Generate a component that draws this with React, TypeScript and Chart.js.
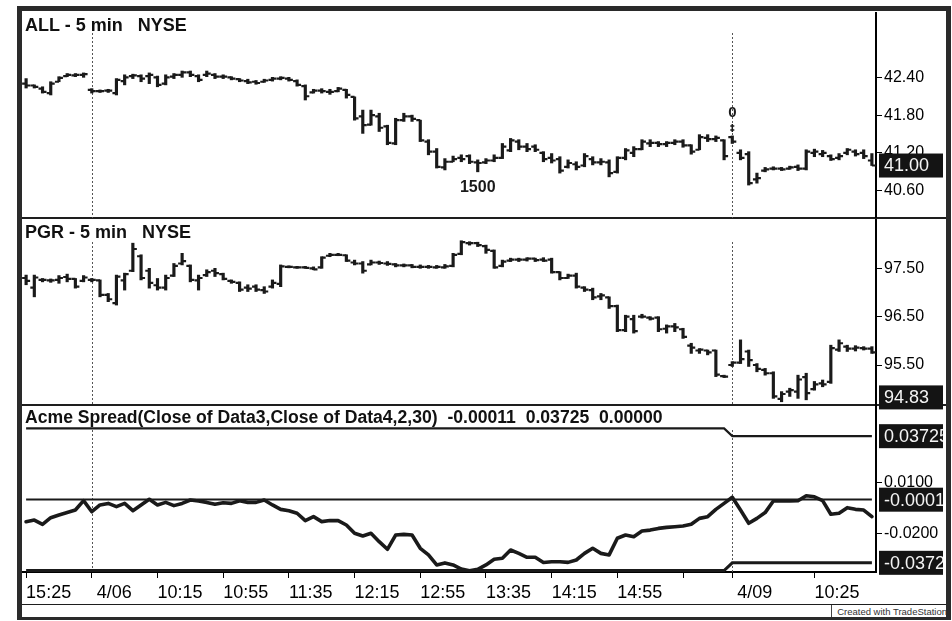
import React, { useEffect, useRef } from "react";
import { Chart, registerables } from "chart.js";

Chart.register(...registerables);

const FONT = '"Liberation Sans", Arial, Helvetica, sans-serif';
const INK = "#1a1a1a";

// ---- categories: 5-minute bars over three sessions ----
const sessions = [
  { day: "4/05", first: "15:25", last: "16:00" },
  { day: "4/06", first: "9:35", last: "16:00" },
  { day: "4/09", first: "9:35", last: "11:00" },
];
function buildCategories() {
  const out: string[] = [];
  for (const s of sessions) {
    let [h, m] = s.first.split(":").map(Number);
    const [eh, em] = s.last.split(":").map(Number);
    while (h * 60 + m <= eh * 60 + em) {
      out.push(`${s.day} ${h}:${String(m).padStart(2, "0")}`);
      m += 5;
      if (m >= 60) { m -= 60; h += 1; }
    }
  }
  return out;
}
const categories = buildCategories();

// x-axis tick anchors (bar index) and their labels
const xTickIndex = [0, 8, 16, 24, 32, 40, 48, 56, 64, 72, 80, 86, 96];
const xTickLabels = ["15:25", " 4/06", "10:15", "10:55", "11:35", "12:15", "12:55", "13:35", "14:15", "14:55", "", " 4/09", "10:25"];
const dayStartIndex = [8, 86];

// ---- ALL - 5 min ----
const allOpen = [
  42.30, 42.27, 42.22, 42.15, 42.33, 42.42, 42.43, 42.44, 42.20, 42.18,
  42.19, 42.15, 42.34, 42.42, 42.42, 42.42, 42.40, 42.30, 42.41, 42.44,
  42.48, 42.42, 42.44, 42.44, 42.41, 42.40, 42.37, 42.34, 42.33, 42.33,
  42.36, 42.38, 42.38, 42.34, 42.26, 42.16, 42.19, 42.17, 42.18, 42.20,
  42.09, 41.78, 41.65, 41.78, 41.62, 41.35, 41.72, 41.78, 41.72, 41.38,
  41.22, 40.97, 41.06, 41.12, 41.15, 41.05, 41.05, 41.08, 41.12, 41.24,
  41.38, 41.30, 41.30, 41.20, 41.12, 41.10, 40.98, 41.02, 41.00, 41.10,
  41.05, 41.05, 40.90, 41.12, 41.20, 41.26, 41.35, 41.36, 41.34, 41.36,
  41.38, 41.32, 41.25, 41.44, 41.42, 41.40, 41.45, 41.20, 41.18, 40.78,
  40.92, 40.95, 40.95, 40.95, 40.98, 40.95, 41.20, 41.18, 41.15, 41.12,
  41.20, 41.22, 41.20, 41.08,
];
const allHigh = [
  42.38, 42.28, 42.25, 42.33, 42.41, 42.46, 42.46, 42.47, 42.22, 42.20,
  42.21, 42.38, 42.44, 42.45, 42.44, 42.47, 42.42, 42.44, 42.46, 42.50,
  42.50, 42.44, 42.50, 42.46, 42.44, 42.41, 42.38, 42.37, 42.35, 42.37,
  42.40, 42.41, 42.40, 42.36, 42.28, 42.21, 42.22, 42.21, 42.24, 42.21,
  42.09, 41.88, 41.88, 41.83, 41.64, 41.75, 41.83, 41.80, 41.72, 41.41,
  41.27, 41.11, 41.15, 41.17, 41.17, 41.09, 41.11, 41.17, 41.35, 41.43,
  41.41, 41.35, 41.33, 41.22, 41.19, 41.14, 41.09, 41.06, 41.19, 41.14,
  41.11, 41.09, 41.14, 41.27, 41.30, 41.41, 41.41, 41.38, 41.38, 41.41,
  41.41, 41.33, 41.49, 41.49, 41.47, 41.41, 41.47, 41.25, 41.22, 40.88,
  40.97, 40.98, 40.97, 40.99, 41.01, 41.25, 41.26, 41.24, 41.17, 41.19,
  41.27, 41.25, 41.25, 41.19,
];
const allLow = [
  42.23, 42.23, 42.15, 42.12, 42.33, 42.41, 42.41, 42.40, 42.15, 42.16,
  42.16, 42.12, 42.28, 42.38, 42.33, 42.30, 42.25, 42.28, 42.38, 42.40,
  42.41, 42.33, 42.41, 42.38, 42.38, 42.36, 42.33, 42.30, 42.29, 42.32,
  42.34, 42.36, 42.34, 42.26, 42.04, 42.15, 42.15, 42.13, 42.17, 42.07,
  41.72, 41.51, 41.64, 41.54, 41.33, 41.33, 41.70, 41.70, 41.38, 41.17,
  40.96, 40.93, 41.06, 41.06, 41.03, 40.90, 41.03, 41.06, 41.11, 41.22,
  41.25, 41.22, 41.22, 41.06, 41.04, 40.88, 40.96, 40.93, 40.98, 41.01,
  41.01, 40.82, 40.88, 41.09, 41.14, 41.25, 41.30, 41.30, 41.30, 41.33,
  41.29, 41.18, 41.25, 41.38, 41.38, 41.09, 41.35, 41.09, 40.69, 40.72,
  40.90, 40.93, 40.92, 40.94, 40.92, 40.93, 41.14, 41.14, 41.08, 41.09,
  41.17, 41.15, 41.11, 41.00,
];
const allClose = [
  42.27, 42.25, 42.17, 42.30, 42.39, 42.44, 42.44, 42.45, 42.18, 42.18,
  42.19, 42.36, 42.40, 42.43, 42.38, 42.44, 42.28, 42.40, 42.44, 42.48,
  42.44, 42.36, 42.46, 42.41, 42.41, 42.38, 42.35, 42.32, 42.31, 42.35,
  42.38, 42.39, 42.36, 42.28, 42.10, 42.19, 42.18, 42.17, 42.22, 42.12,
  41.75, 41.64, 41.80, 41.60, 41.36, 41.72, 41.78, 41.74, 41.40, 41.22,
  40.98, 41.06, 41.10, 41.10, 41.06, 41.04, 41.08, 41.12, 41.30, 41.40,
  41.30, 41.26, 41.25, 41.10, 41.08, 40.92, 41.04, 40.98, 41.15, 41.05,
  41.06, 40.88, 41.12, 41.24, 41.26, 41.38, 41.36, 41.34, 41.36, 41.38,
  41.32, 41.22, 41.45, 41.42, 41.44, 41.15, 41.38, 41.12, 40.72, 40.80,
  40.94, 40.95, 40.94, 40.97, 40.95, 41.22, 41.22, 41.20, 41.10, 41.15,
  41.25, 41.18, 41.15, 41.00,
];
const allTicks = [40.6, 41.2, 41.8, 42.4];
const allRange = [40.167, 43.437];
const allLast = [{ value: 41.0, text: "41.00" }];
const allNoteIndex = [55, 86];
const allNoteText = ["1500", "0"];
const allNotePlace = ["below", "above"];

// ---- PGR - 5 min ----
const pgrOpen = [
  97.30, 97.10, 97.26, 97.25, 97.26, 97.32, 97.28, 97.24, 97.26, 97.25,
  96.95, 96.78, 97.25, 97.45, 97.75, 97.45, 97.15, 97.10, 97.35, 97.60,
  97.55, 97.25, 97.36, 97.45, 97.38, 97.24, 97.20, 97.10, 97.12, 97.05,
  97.12, 97.18, 97.53, 97.52, 97.52, 97.50, 97.52, 97.76, 97.78, 97.77,
  97.62, 97.60, 97.58, 97.62, 97.60, 97.58, 97.56, 97.56, 97.53, 97.53,
  97.52, 97.52, 97.55, 97.80, 98.02, 98.02, 97.96, 97.86, 97.55, 97.66,
  97.68, 97.68, 97.70, 97.68, 97.68, 97.42, 97.30, 97.35, 97.10, 97.05,
  96.92, 96.90, 96.72, 96.22, 96.45, 96.50, 96.48, 96.48, 96.25, 96.30,
  96.24, 95.90, 95.80, 95.80, 95.80, 95.27, 95.50, 95.55, 95.78, 95.50,
  95.40, 95.33, 94.80, 94.95, 94.95, 95.25, 95.00, 95.12, 95.15, 95.82,
  95.88, 95.84, 95.85, 95.84,
];
const pgrHigh = [
  97.36, 97.36, 97.29, 97.28, 97.35, 97.38, 97.29, 97.35, 97.29, 97.26,
  96.98, 97.36, 97.40, 98.02, 97.78, 97.50, 97.29, 97.36, 97.60, 97.81,
  97.57, 97.36, 97.47, 97.50, 97.40, 97.26, 97.22, 97.16, 97.16, 97.12,
  97.26, 97.57, 97.55, 97.53, 97.53, 97.53, 97.74, 97.81, 97.81, 97.78,
  97.67, 97.64, 97.67, 97.65, 97.64, 97.60, 97.59, 97.58, 97.57, 97.56,
  97.56, 97.58, 97.81, 98.07, 98.05, 98.04, 97.98, 97.88, 97.67, 97.71,
  97.71, 97.72, 97.71, 97.72, 97.71, 97.43, 97.38, 97.40, 97.12, 97.09,
  96.98, 96.91, 96.74, 96.53, 96.53, 96.55, 96.50, 96.50, 96.33, 96.36,
  96.26, 95.95, 95.84, 95.81, 95.81, 95.29, 95.57, 96.02, 95.81, 95.53,
  95.43, 95.36, 94.95, 95.02, 95.29, 95.33, 95.16, 95.19, 95.91, 96.02,
  95.91, 95.90, 95.88, 95.88,
];
const pgrLow = [
  97.16, 96.91, 97.22, 97.21, 97.19, 97.22, 97.09, 97.22, 97.22, 96.91,
  96.81, 96.74, 97.05, 97.43, 97.26, 97.09, 97.05, 97.05, 97.33, 97.57,
  97.22, 97.05, 97.33, 97.33, 97.26, 97.19, 97.02, 97.02, 97.02, 96.98,
  97.09, 97.12, 97.51, 97.50, 97.50, 97.47, 97.50, 97.74, 97.76, 97.64,
  97.57, 97.40, 97.57, 97.58, 97.56, 97.53, 97.53, 97.51, 97.50, 97.50,
  97.50, 97.50, 97.53, 97.78, 97.98, 97.95, 97.81, 97.50, 97.53, 97.64,
  97.64, 97.65, 97.64, 97.64, 97.40, 97.26, 97.29, 97.09, 97.02, 96.85,
  96.85, 96.67, 96.19, 96.19, 96.16, 96.47, 96.43, 96.19, 96.16, 96.19,
  96.05, 95.74, 95.74, 95.71, 95.26, 95.24, 95.47, 95.53, 95.47, 95.36,
  95.29, 94.81, 94.74, 94.85, 94.81, 94.78, 94.98, 95.05, 95.12, 95.78,
  95.78, 95.79, 95.81, 95.74,
];
const pgrClose = [
  97.24, 97.31, 97.26, 97.25, 97.30, 97.28, 97.12, 97.31, 97.26, 96.95,
  96.86, 97.33, 97.38, 97.90, 97.30, 97.20, 97.10, 97.30, 97.55, 97.65,
  97.26, 97.30, 97.42, 97.40, 97.28, 97.22, 97.06, 97.08, 97.06, 97.02,
  97.20, 97.54, 97.53, 97.52, 97.51, 97.48, 97.72, 97.78, 97.78, 97.66,
  97.60, 97.45, 97.62, 97.61, 97.59, 97.56, 97.56, 97.53, 97.53, 97.53,
  97.53, 97.54, 97.78, 98.04, 98.02, 97.98, 97.88, 97.52, 97.64, 97.68,
  97.68, 97.70, 97.67, 97.66, 97.42, 97.30, 97.35, 97.12, 97.06, 96.90,
  96.94, 96.72, 96.22, 96.50, 96.20, 96.50, 96.46, 96.24, 96.30, 96.28,
  96.08, 95.86, 95.82, 95.76, 95.30, 95.26, 95.55, 95.62, 95.60, 95.42,
  95.33, 94.85, 94.90, 94.98, 95.20, 94.92, 95.10, 95.10, 95.85, 95.95,
  95.84, 95.86, 95.84, 95.76,
];
const pgrTicks = [95.5, 96.5, 97.5];
const pgrRange = [94.673, 98.52];
const pgrLast = [{ value: 94.83, text: "94.83" }];

// ---- Acme Spread ----
const spread = [
  -0.0131, -0.0121, -0.0146, -0.0107, -0.0091, -0.0077, -0.0062, -0.0007, -0.0072, -0.0032,
  -0.0023, -0.0042, -0.0023, -0.0066, -0.0032, 0.0001, -0.0032, -0.0017, -0.0036, -0.0023,
  -0.0003, -0.0009, -0.0017, -0.0028, -0.0019, -0.0023, -0.0007, -0.0017, -0.0017, -0.0003,
  -0.0032, -0.0058, -0.0066, -0.0081, -0.0124, -0.0101, -0.0130, -0.0124, -0.0124, -0.0150,
  -0.0199, -0.0215, -0.0199, -0.0248, -0.0293, -0.0209, -0.0205, -0.0209, -0.0287, -0.0326,
  -0.0385, -0.0373, -0.0385, -0.0409, -0.0419, -0.0411, -0.0385, -0.0352, -0.0346, -0.0297,
  -0.0317, -0.0340, -0.0340, -0.0371, -0.0366, -0.0366, -0.0370, -0.0356, -0.0317, -0.0287,
  -0.0317, -0.0326, -0.0228, -0.0209, -0.0219, -0.0185, -0.0180, -0.0170, -0.0164, -0.0160,
  -0.0156, -0.0146, -0.0111, -0.0101, -0.0058, -0.0023, 0.0013, -0.0062, -0.0140, -0.0111,
  -0.0077, -0.0009, -0.0009, -0.0009, -0.0007, 0.0022, 0.0016, -0.0007, -0.0087, -0.0081,
  -0.0048, -0.0058, -0.0062, -0.0101,
];
// band levels per segment of bars [fromIndex, toIndex, value]
const upperBandSegments = [[0, 85, 0.0418], [86, 103, 0.03725]];
const lowerBandSegments = [[0, 85, -0.0418], [86, 103, -0.03725]];
const zeroLineSegments = [[0, 103, 0.0]];
const spreadTicks = [-0.02, 0.01];
const spreadRange = [-0.04265, 0.055];
const spreadLast = [
  { value: 0.03725, text: "0.03725" },
  { value: -0.00011, text: "-0.00011" },
  { value: -0.03725, text: "-0.03725" },
];

function expandSegments(segs: number[][]) {
  const out: number[] = [];
  for (const [a, b, v] of segs) for (let i = a; i <= b; i++) out[i] = v;
  return out;
}

const Y_AXIS_WIDTH = 70;

const daySeparatorPlugin = {
  id: "daySeparators",
  beforeDatasetsDraw(chart: any, _a: any, opts: any) {
    const { ctx, chartArea, scales } = chart;
    const x = scales.x;
    ctx.save();
    ctx.strokeStyle = "#555";
    ctx.lineWidth = 1;
    ctx.setLineDash([2, 2]);
    for (const idx of dayStartIndex) {
      const px = Math.round(x.getPixelForValue(idx)) + 0.5;
      ctx.beginPath();
      ctx.moveTo(px, chartArea.top + (opts.topGap ?? 22));
      ctx.lineTo(px, chartArea.bottom);
      ctx.stroke();
    }
    ctx.restore();
  },
};

const valueBoxPlugin = {
  id: "valueBoxes",
  afterDraw(chart: any, _a: any, opts: any) {
    const { ctx, chartArea, scales } = chart;
    const y = scales.y;
    for (const b of opts.boxes || []) {
      const py = y.getPixelForValue(b.value);
      const left = chartArea.right + 3;
      const right = chart.width - 3;
      const h = 24;
      ctx.save();
      ctx.fillStyle = "#141414";
      ctx.fillRect(left, py - h / 2, right - left, h);
      ctx.beginPath();
      ctx.rect(left, py - h / 2, right - left, h);
      ctx.clip();
      ctx.fillStyle = "#f4f4f4";
      ctx.font = `18px ${FONT}`;
      ctx.textAlign = "left";
      ctx.textBaseline = "middle";
      ctx.fillText(b.text, left + 5, py + 1);
      ctx.restore();
    }
  },
};

const notePlugin = {
  id: "barNotes",
  afterDatasetsDraw(chart: any, _a: any, opts: any) {
    if (!opts.index) return;
    const { ctx, scales } = chart;
    ctx.save();
    ctx.fillStyle = INK;
    ctx.strokeStyle = INK;
    ctx.textAlign = "center";
    ctx.textBaseline = "middle";
    opts.index.forEach((idx: number, k: number) => {
      const px = scales.x.getPixelForValue(idx);
      if (opts.place[k] === "below") {
        const py = scales.y.getPixelForValue(opts.low[idx]);
        ctx.font = `bold 16px ${FONT}`;
        ctx.fillText(opts.text[k], px, py + 16);
      } else {
        const py = scales.y.getPixelForValue(opts.high[idx]);
        ctx.font = `bold 15px ${FONT}`;
        ctx.fillText(opts.text[k], px, py - 23);
        ctx.lineWidth = 1.5;
        ctx.beginPath();
        ctx.moveTo(px, py - 12);
        ctx.lineTo(px, py - 4);
        ctx.moveTo(px - 2, py - 10);
        ctx.lineTo(px + 2, py - 10);
        ctx.moveTo(px - 2, py - 6);
        ctx.lineTo(px + 2, py - 6);
        ctx.stroke();
      }
    });
    ctx.restore();
  },
};

function rightAxis(range: number[], tickValues: number[], decimals: number) {
  return {
    type: "linear",
    position: "right",
    min: range[0],
    max: range[1],
    afterBuildTicks: (s: any) => {
      s.ticks = tickValues.map((v) => ({ value: v }));
    },
    afterFit: (s: any) => {
      s.width = Y_AXIS_WIDTH;
      s.paddingTop = 0;
      s.paddingBottom = 0;
    },
    grid: { display: true, drawOnChartArea: false, drawTicks: true, tickLength: 6, color: "#000", lineWidth: 1 },
    border: { display: true, color: "#000", width: 2 },
    ticks: {
      padding: 2,
      color: "#000",
      font: { family: FONT, size: 16 },
      callback: (v: any) => Number(v).toFixed(decimals),
    },
  };
}

const hiddenX = {
  type: "category",
  display: false,
  offset: true,
  grid: { offset: false },
};

function ohlcDatasets(open: number[], high: number[], low: number[], close: number[]) {
  return [
    {
      type: "bar",
      data: low.map((l, i) => [l, high[i]]),
      backgroundColor: INK,
      borderWidth: 0,
      barThickness: 2.5,
      grouped: false,
      minBarLength: 2,
    },
    {
      type: "line",
      data: open,
      showLine: false,
      pointStyle: "dash",
      pointRotation: 180,
      pointRadius: 4,
      pointBorderWidth: 2.2,
      pointBorderColor: INK,
      pointBackgroundColor: INK,
    },
    {
      type: "line",
      data: close,
      showLine: false,
      pointStyle: "dash",
      pointRadius: 4,
      pointBorderWidth: 2.2,
      pointBorderColor: INK,
      pointBackgroundColor: INK,
    },
  ];
}

const commonOptions = {
  animation: false,
  responsive: true,
  maintainAspectRatio: false,
  events: [],
  layout: { padding: 0, autoPadding: false },
};

export default function App() {
  const c1 = useRef<HTMLCanvasElement>(null);
  const c2 = useRef<HTMLCanvasElement>(null);
  const c3 = useRef<HTMLCanvasElement>(null);

  useEffect(() => {
    const chartAll = new Chart(c1.current as HTMLCanvasElement, {
      type: "bar",
      data: { labels: categories, datasets: ohlcDatasets(allOpen, allHigh, allLow, allClose) as any },
      options: {
        ...commonOptions,
        scales: { x: hiddenX, y: rightAxis(allRange, allTicks, 2) } as any,
        plugins: {
          legend: { display: false },
          tooltip: { enabled: false },
          daySeparators: { topGap: 21 },
          valueBoxes: { boxes: allLast },
          barNotes: { index: allNoteIndex, text: allNoteText, place: allNotePlace, low: allLow, high: allHigh },
        } as any,
      } as any,
      plugins: [daySeparatorPlugin, valueBoxPlugin, notePlugin],
    });

    const chartPgr = new Chart(c2.current as HTMLCanvasElement, {
      type: "bar",
      data: { labels: categories, datasets: ohlcDatasets(pgrOpen, pgrHigh, pgrLow, pgrClose) as any },
      options: {
        ...commonOptions,
        layout: { padding: { bottom: 7 }, autoPadding: false },
        scales: { x: hiddenX, y: rightAxis(pgrRange, pgrTicks, 2) } as any,
        plugins: {
          legend: { display: false },
          tooltip: { enabled: false },
          daySeparators: { topGap: 23 },
          valueBoxes: { boxes: pgrLast },
        } as any,
      } as any,
      plugins: [daySeparatorPlugin, valueBoxPlugin],
    });

    const chartSpread = new Chart(c3.current as HTMLCanvasElement, {
      type: "line",
      data: {
        labels: categories,
        datasets: [
          { data: expandSegments(upperBandSegments), borderColor: INK, borderWidth: 2.2, pointRadius: 0, tension: 0 },
          { data: expandSegments(zeroLineSegments), borderColor: INK, borderWidth: 2.2, pointRadius: 0, tension: 0 },
          { data: expandSegments(lowerBandSegments), borderColor: INK, borderWidth: 3, pointRadius: 0, tension: 0 },
          { data: spread, borderColor: INK, borderWidth: 3.6, pointRadius: 0, tension: 0, borderJoinStyle: "round", borderCapStyle: "round" },
        ] as any,
      },
      options: {
        ...commonOptions,
        scales: {
          x: {
            type: "category",
            offset: true,
            afterBuildTicks: (s: any) => {
              s.ticks = xTickIndex.map((v) => ({ value: v }));
            },
            afterFit: (s: any) => {
              s.height = 30;
              s.paddingLeft = 0;
              s.paddingRight = 0;
            },
            grid: { display: true, drawOnChartArea: false, drawTicks: true, tickLength: 6, offset: false, color: "#000", lineWidth: 1 },
            border: { display: true, color: "#000", width: 2 },
            ticks: {
              autoSkip: false,
              maxRotation: 0,
              minRotation: 0,
              align: "start",
              padding: 4,
              color: "#000",
              font: { family: FONT, size: 18 },
              callback: (v: any) => {
                const k = xTickIndex.indexOf(Number(v));
                return k >= 0 ? xTickLabels[k] : "";
              },
            },
          },
          y: rightAxis(spreadRange, spreadTicks, 4),
        } as any,
        plugins: {
          legend: { display: false },
          tooltip: { enabled: false },
          daySeparators: { topGap: 24 },
          valueBoxes: { boxes: spreadLast },
        } as any,
      } as any,
      plugins: [daySeparatorPlugin, valueBoxPlugin],
    });

    return () => {
      chartAll.destroy();
      chartPgr.destroy();
      chartSpread.destroy();
    };
  }, []);

  const pane = (top: number, height: number, z: number): React.CSSProperties => ({
    position: "absolute",
    left: 22,
    top,
    width: 924,
    height,
    zIndex: z,
  });
  const line = (top: number, left: number, width: number, height: number): React.CSSProperties => ({
    position: "absolute",
    top,
    left,
    width,
    height,
    background: "#1e1e1e",
  });
  const title = (top: number, size: number): React.CSSProperties => ({
    position: "absolute",
    left: 25,
    top,
    fontFamily: FONT,
    fontWeight: "bold",
    fontSize: size,
    lineHeight: `${size}px`,
    color: "#111",
    whiteSpace: "pre",
    zIndex: 5,
  });

  return (
    <div
      style={{
        position: "absolute",
        left: 0,
        top: 0,
        width: 952,
        height: 621,
        background: "#fff",
        overflow: "hidden",
        fontFamily: FONT,
      }}
    >
      {/* frame and panel separators */}
      <div
        style={{
          position: "absolute",
          left: 17,
          top: 6,
          width: 934,
          height: 614,
          boxSizing: "border-box",
          borderStyle: "solid",
          borderColor: "#2a2a2a",
          borderWidth: "5px 5px 3px 5px",
        }}
      />
      <div style={line(217, 22, 924, 2)} />
      <div style={line(404, 22, 924, 2)} />
      <div style={line(604, 22, 924, 1)} />

      <div style={pane(12, 206, 2)}>
        <canvas ref={c1} />
      </div>
      <div style={pane(406, 196, 2)}>
        <canvas ref={c3} />
      </div>
      <div style={pane(219, 193, 3)}>
        <canvas ref={c2} />
      </div>

      <div style={title(16, 18)}>{"ALL - 5 min   NYSE"}</div>
      <div style={title(222.7, 18)}>{"PGR - 5 min   NYSE"}</div>
      <div style={title(409.4, 17.6)}>
        {"Acme Spread(Close of Data3,Close of Data4,2,30)  -0.00011  0.03725  0.00000"}
      </div>

      <div
        style={{
          position: "absolute",
          left: 831,
          top: 605,
          width: 115,
          height: 12,
          borderLeft: "1px solid #444",
          fontFamily: FONT,
          fontSize: 9.5,
          lineHeight: "13px",
          textAlign: "right",
          color: "#333",
          whiteSpace: "nowrap",
          overflow: "hidden",
        }}
      >
        Created with TradeStation
      </div>
    </div>
  );
}
